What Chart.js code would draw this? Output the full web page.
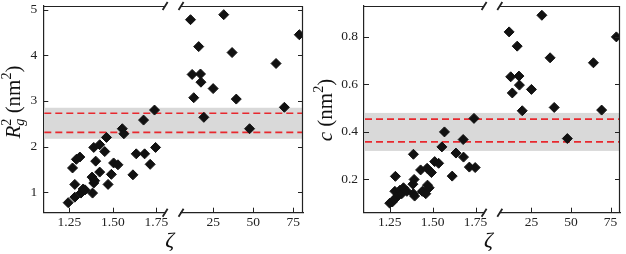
<!DOCTYPE html>
<html>
<head>
<meta charset="utf-8">
<script src="https://cdn.jsdelivr.net/npm/chart.js@4.4.1/dist/chart.umd.min.js"></script>
<style>
  html, body { margin: 0; padding: 0; background: #fff; }
  #wrap { position: relative; width: 626px; height: 254px; }
  .panel { position: absolute; top: 0; width: 313px; height: 254px; }
</style>
</head>
<body>
<div id="wrap">
  <div class="panel" style="left:0"><canvas id="chartRg" width="313" height="254"></canvas></div>
  <div class="panel" style="left:313px"><canvas id="chartC" width="313" height="254"></canvas></div>
</div>
<script>
// low zeta branch (left piece of the broken axis)
const zetaLowRg = [1.243, 1.268, 1.281, 1.281, 1.290, 1.310, 1.316, 1.329, 1.340, 1.380, 1.383, 1.390, 1.390, 1.395, 1.401, 1.424, 1.424, 1.453, 1.463, 1.472, 1.491, 1.504, 1.529, 1.554, 1.563, 1.615, 1.634, 1.676, 1.682, 1.714, 1.739, 1.745];
const rgLow = [0.77, 1.53, 0.89, 1.17, 1.72, 1.77, 0.98, 1.07, 1.05, 1.33, 0.98, 1.20, 1.98, 1.25, 1.68, 1.44, 2.04, 1.89, 2.20, 1.17, 1.39, 1.64, 1.60, 2.39, 2.28, 1.38, 1.84, 2.58, 1.84, 1.61, 2.80, 1.98];

const zetaLowC = [1.250, 1.265, 1.275, 1.280, 1.283, 1.290, 1.300, 1.310, 1.320, 1.330, 1.350, 1.385, 1.388, 1.388, 1.392, 1.395, 1.430, 1.440, 1.460, 1.468, 1.470, 1.480, 1.493, 1.512, 1.535, 1.554, 1.569, 1.614, 1.636, 1.678, 1.680, 1.714, 1.741, 1.748];
const cLow = [0.100, 0.105, 0.115, 0.150, 0.213, 0.125, 0.135, 0.155, 0.140, 0.165, 0.150, 0.180, 0.306, 0.140, 0.200, 0.130, 0.240, 0.150, 0.140, 0.247, 0.176, 0.165, 0.229, 0.275, 0.268, 0.337, 0.400, 0.214, 0.311, 0.368, 0.294, 0.252, 0.457, 0.250];

// high zeta branch (right piece), same for both panels
const zetaHigh = [10.9, 11.9, 12.9, 16.0, 17.1, 17.4, 19.2, 25.0, 31.6, 36.8, 39.4, 47.7, 64.2, 69.4, 78.7];
const rgHigh = [4.78, 3.58, 3.07, 4.19, 3.59, 3.41, 2.64, 3.27, 4.89, 4.06, 3.04, 2.39, 3.82, 2.86, 4.45];
const cHigh = [0.821, 0.632, 0.564, 0.761, 0.635, 0.597, 0.489, 0.579, 0.891, 0.712, 0.503, 0.372, 0.691, 0.492, 0.80];

// ticks
const lowTicks = [1.25, 1.50, 1.75];
const highTicks = [25, 50, 75];
const rgTicks = [1, 2, 3, 4, 5];
const cTicks = [0.2, 0.4, 0.6, 0.8];

// reference band (grey) and the two dashed lines
const rgBand = [2.17, 2.85];
const rgLines = [2.31, 2.73];
const cBand = [0.32, 0.48];
const cLines = [0.358, 0.454];

const serif = "'Liberation Serif', 'Times New Roman', serif";
const ink = '#222';

const framePlugin = {
  id: 'frame',
  beforeDatasetsDraw(chart, args, opts) {
    const {ctx, chartArea: a} = chart;
    const y = chart.scales.y;
    ctx.save();
    const yTop = y.getPixelForValue(opts.band[1]);
    const yBot = y.getPixelForValue(opts.band[0]);
    ctx.fillStyle = '#d9d9d9';
    ctx.fillRect(a.left + 1, yTop, a.right - a.left - 1, yBot - yTop);
    ctx.strokeStyle = '#e8282e';
    ctx.lineWidth = 1.6;
    ctx.setLineDash([7, 4]);
    opts.lines.forEach((v) => {
      const py = y.getPixelForValue(v);
      ctx.beginPath();
      ctx.moveTo(a.left + 1, py);
      ctx.lineTo(a.right, py);
      ctx.stroke();
    });
    ctx.restore();
  },
  afterDraw(chart, args, opts) {
    const {ctx, chartArea: a} = chart;
    const y = chart.scales.y;
    const xa = chart.scales.xa;
    const xb = chart.scales.xb;
    const tl = 5;
    ctx.save();
    ctx.strokeStyle = ink;
    ctx.lineWidth = 1.2;
    // top and right frame
    ctx.beginPath();
    ctx.moveTo(a.left, a.top + 0.5);
    ctx.lineTo(xa.right, a.top + 0.5);
    ctx.moveTo(xb.left, a.top + 0.5);
    ctx.lineTo(a.right - 0.5, a.top + 0.5);
    ctx.lineTo(a.right - 0.5, a.bottom);
    ctx.stroke();
    // inward ticks
    ctx.lineWidth = 1;
    ctx.beginPath();
    y.ticks.forEach((t) => {
      const py = Math.round(y.getPixelForValue(t.value)) + 0.5;
      ctx.moveTo(a.left, py);
      ctx.lineTo(a.left + tl, py);
      ctx.moveTo(a.right, py);
      ctx.lineTo(a.right - tl, py);
    });
    [xa, xb].forEach((s) => {
      s.ticks.forEach((t) => {
        const px = Math.round(s.getPixelForValue(t.value)) + 0.5;
        ctx.moveTo(px, a.bottom);
        ctx.lineTo(px, a.bottom - tl);
      });
    });
    ctx.stroke();
    // break marks
    ctx.lineWidth = 1.8;
    ctx.beginPath();
    [xa.right, xb.left].forEach((px) => {
      [a.top, a.bottom].forEach((py) => {
        ctx.moveTo(px - 2.5, py + 4);
        ctx.lineTo(px + 2.5, py - 4);
      });
    });
    ctx.stroke();
    // y title with sub/superscripts
    const size = opts.titleSize;
    ctx.translate(opts.titleX, opts.titleY);
    ctx.rotate(-Math.PI / 2);
    ctx.fillStyle = '#111';
    ctx.textBaseline = 'alphabetic';
    const fontOf = (r) => (r.italic ? 'italic ' : '') + (size * (r.scale || 1)) + 'px ' + serif;
    let total = 0;
    opts.titleRuns.forEach((r) => {
      ctx.font = fontOf(r);
      const w = ctx.measureText(r.text).width;
      if (!r.stay) total += w;
    });
    let x = -total / 2;
    const base = size * 0.32;
    opts.titleRuns.forEach((r) => {
      ctx.font = fontOf(r);
      ctx.fillText(r.text, x, base + (r.dy || 0) * size);
      const w = ctx.measureText(r.text).width;
      if (!r.stay) x += w;
    });
    ctx.restore();
  }
};

function setTicks(values) {
  return (scale) => {
    scale.ticks = values.map((v) => ({value: v}));
  };
}

function makePanel(canvas, cfg) {
  const tickFont = {family: serif, size: 13.5};
  const xCommon = {
    type: 'linear',
    position: 'bottom',
    stack: 'zeta',
    grid: {display: false, drawTicks: false},
    border: {color: ink, width: 1.2},
    afterFit: (s) => {
      s.height = 41.3;
      s.paddingLeft = 0;
      s.paddingRight = 0;
    }
  };
  return new Chart(canvas, {
    type: 'scatter',
    data: {
      datasets: [{
        data: cfg.lowX.map((x, i) => ({x: x, y: cfg.lowY[i]})),
        xAxisID: 'xa',
        yAxisID: 'y'
      }, {
        data: zetaHigh.map((x, i) => ({x: x, y: cfg.highY[i]})),
        xAxisID: 'xb',
        yAxisID: 'y'
      }]
    },
    options: {
      responsive: false,
      animation: false,
      maintainAspectRatio: false,
      layout: {padding: {top: 5.5, right: cfg.padRight, bottom: 0, left: 0}},
      elements: {
        point: {pointStyle: 'rectRot', radius: 5, borderWidth: 1, backgroundColor: '#111', borderColor: '#111'}
      },
      plugins: {
        legend: {display: false},
        tooltip: {enabled: false},
        frame: {
          band: cfg.band,
          lines: cfg.lines,
          titleRuns: cfg.titleRuns,
          titleX: cfg.titleX,
          titleY: cfg.titleY,
          titleSize: 21
        }
      },
      scales: {
        xa: Object.assign({}, xCommon, {
          stackWeight: 122.4,
          min: 1.1,
          max: 1.8,
          afterBuildTicks: setTicks(lowTicks),
          ticks: {font: tickFont, color: ink, padding: 2, maxRotation: 0, callback: (v) => v.toFixed(2)}
        }),
        xg: Object.assign({}, xCommon, {
          stackWeight: 16,
          min: 0,
          max: 1,
          border: {display: false},
          ticks: {display: false},
          title: {display: true, text: 'ζ', align: 'start', color: '#111', padding: 0, font: {family: serif, size: 22, style: 'italic'}}
        }),
        xb: Object.assign({}, xCommon, {
          stackWeight: 122.5,
          min: 5,
          max: 81,
          afterBuildTicks: setTicks(highTicks),
          ticks: {font: tickFont, color: ink, padding: 2, maxRotation: 0, callback: (v) => String(v)}
        }),
        y: {
          type: 'linear',
          position: 'left',
          min: cfg.yMin,
          max: cfg.yMax,
          afterBuildTicks: setTicks(cfg.yTicks),
          grid: {display: false, drawTicks: false},
          border: {color: ink, width: 1.2},
          ticks: {font: tickFont, color: ink, padding: 6, callback: cfg.yFmt},
          afterFit: (s) => {
            s.width = cfg.yWidth;
            s.paddingTop = 0;
            s.paddingBottom = 0;
          }
        }
      }
    },
    plugins: [framePlugin]
  });
}

makePanel(document.getElementById('chartRg'), {
  lowX: zetaLowRg,
  lowY: rgLow,
  highY: rgHigh,
  yMin: 0.55,
  yMax: 5.08,
  yTicks: rgTicks,
  yFmt: (v) => String(v),
  yWidth: 43.3,
  padRight: 10,
  band: rgBand,
  lines: rgLines,
  titleX: 13,
  titleY: 102,
  titleRuns: [
    {text: 'R', italic: true},
    {text: 'g', italic: true, scale: 0.68, dy: 0.22, stay: true},
    {text: '2', scale: 0.68, dy: -0.42},
    {text: ' (nm'},
    {text: '2', scale: 0.68, dy: -0.42},
    {text: ')'}
  ]
});

makePanel(document.getElementById('chartC'), {
  lowX: zetaLowC,
  lowY: cLow,
  highY: cHigh,
  yMin: 0.06,
  yMax: 0.93,
  yTicks: cTicks,
  yFmt: (v) => v.toFixed(1),
  yWidth: 51,
  padRight: 2,
  band: cBand,
  lines: cLines,
  titleX: 12,
  titleY: 110,
  titleRuns: [
    {text: 'c', italic: true},
    {text: ' (nm'},
    {text: '2', scale: 0.68, dy: -0.42},
    {text: ')'}
  ]
});
</script>
</body>
</html>
